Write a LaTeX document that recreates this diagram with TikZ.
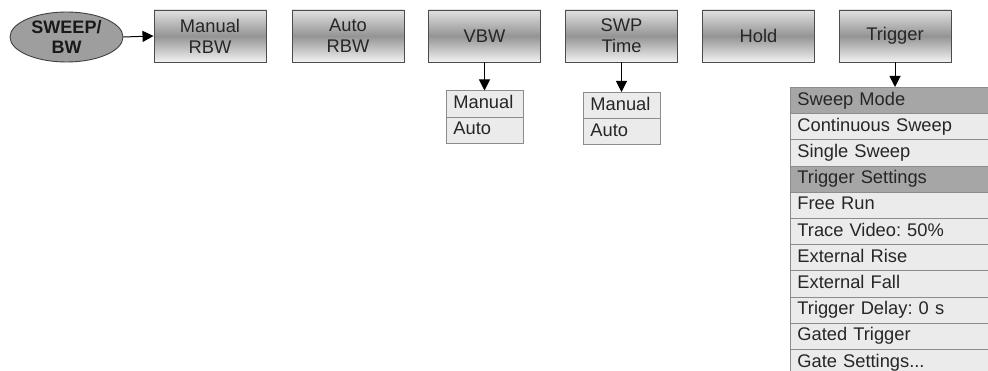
\documentclass[tikz,border=0pt]{standalone}
\usepackage{fontspec}
\setmainfont{Liberation Sans}
\usetikzlibrary{arrows.meta,shapes.geometric}
\frenchspacing
\begin{document}
\begin{tikzpicture}[x=1pt,y=-1pt,
  every node/.style={font=\fontsize{18.3}{21}\selectfont, text=black!85, inner sep=0pt},
  menubox/.style={draw=black!70, line width=0.9pt, minimum width=112pt, minimum height=52pt,
    top color=black!12, bottom color=black!5, middle color=black!42, align=center},
  keyoval/.style={ellipse, draw=black!75, line width=0.9pt, fill=black!38, minimum width=113pt,
    minimum height=50pt, align=center, font=\fontsize{18}{20}\selectfont\bfseries, text=black!90},
  rowbox/.style={rectangle, draw=black!45, line width=0.8pt, fill=black!8, anchor=north west,
    inner xsep=7pt, inner ysep=0pt, minimum height=26.2pt, text height=13.2pt, text depth=3.8pt},
  subrow/.style={rowbox, text width=63pt},
  trigrow/.style={rowbox, text width=186pt},
  headrow/.style={trigrow, fill=black!35},
  arr/.style={-{Triangle[width=11pt,length=11pt]}, line width=1pt, draw=black}
]
\useasboundingbox (0,0) rectangle (988,371);
\clip (0,0) rectangle (988,371);

\node[keyoval] (sweep) at (66.5,37) {SWEEP/\\BW};

\node[menubox] (mrbw) at (210,36) {Manual\\RBW};
\node[menubox] (arbw) at (348,36) {Auto\\RBW};
\node[menubox] (vbw)  at (484.5,36) {VBW};
\node[menubox] (swp)  at (621.5,36) {SWP\\Time};
\node[menubox] (hold) at (758.5,36) {Hold};
\node[menubox] (trig) at (895,36) {Trigger};

\draw[arr] (sweep.east) -- (mrbw.west);

% VBW sub-list
\node[subrow] (vman) at (446,90.5) {Manual};
\node[subrow] (vaut) at (446,116.7) {Auto};
\coordinate (vtop) at (484.5,90.5);
\draw[arr] (vbw.south) -- (vtop);

% SWP Time sub-list
\node[subrow] (sman) at (583,92) {Manual};
\node[subrow] (saut) at (583,118.2) {Auto};
\coordinate (stop) at (621.5,92);
\draw[arr] (swp.south) -- (stop);

% Trigger list
\node[headrow] (t1)  at (790,87)    {Sweep Mode};
\node[trigrow] (t2)  at (790,113.2) {Continuous Sweep};
\node[trigrow] (t3)  at (790,139.4) {Single Sweep};
\node[headrow] (t4)  at (790,165.6) {Trigger Settings};
\node[trigrow] (t5)  at (790,191.8) {Free Run};
\node[trigrow] (t6)  at (790,218.0) {Trace Video: 50\%};
\node[trigrow] (t7)  at (790,244.2) {External Rise};
\node[trigrow] (t8)  at (790,270.4) {External Fall};
\node[trigrow] (t9)  at (790,296.6) {Trigger Delay: 0 s};
\node[trigrow] (t10) at (790,322.8) {Gated Trigger};
\node[trigrow] (t11) at (790,349.0) {Gate Settings...};
\coordinate (ttop) at (895,87);
\draw[arr] (trig.south) -- (ttop);
\end{tikzpicture}
\end{document}
